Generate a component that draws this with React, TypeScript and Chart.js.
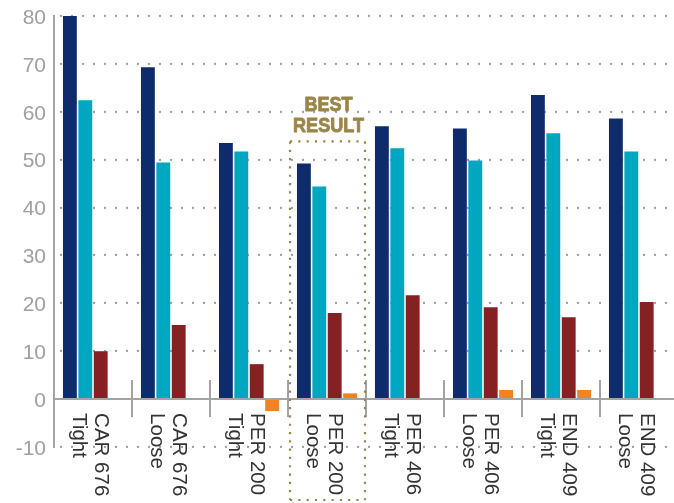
import { useEffect, useRef } from "react";
import { Chart, registerables } from "chart.js";

Chart.register(...registerables);

// Category labels (two lines each, drawn rotated under the baseline)
const categories: string[][] = [
  ["CAR 676", "Tight"],
  ["CAR 676", "Loose"],
  ["PER 200", "Tight"],
  ["PER 200", "Loose"],
  ["PER 406", "Tight"],
  ["PER 406", "Loose"],
  ["END 409", "Tight"],
  ["END 409", "Loose"],
];

const seriesNavy = [80, 69.3, 53.5, 49.2, 57.0, 56.5, 63.5, 58.6];
const seriesTeal = [62.4, 49.4, 51.7, 44.4, 52.4, 49.8, 55.5, 51.7];
const seriesRed = [10.0, 15.5, 7.3, 18.0, 21.7, 19.2, 17.1, 20.3];
const seriesOrange = [0, 0, -2.5, 1.2, 0, 1.9, 1.9, 0];

const yMin = -10;
const yMax = 80;
const yStep = 10;

// Highlighted category and the value where its frame starts
const bestIndex = 3;
const bestTop = 53.8;
const bestLines = ["BEST", "RESULT"];

const NAVY = "#0e2c6b";
const TEAL = "#00a7c1";
const RED = "#852122";
const ORANGE = "#f58220";
const GOLD = "#9b8547";
const GRAY = "#a3a3a3";
const DOT = "#9c9c9c";

const FONT = "'Liberation Sans', Arial, sans-serif";

// Dotted horizontal grid, drawn under the bars
const dottedGrid = {
  id: "dottedGrid",
  beforeDatasetsDraw(chart: any) {
    const { ctx, chartArea, scales } = chart;
    const y = scales.y;
    ctx.save();
    ctx.fillStyle = DOT;
    y.ticks.forEach((t: any) => {
      if (t.value === 0) return;
      const py = Math.round(y.getPixelForValue(t.value));
      for (let px = chartArea.left + 7; px < chartArea.right; px += 11) {
        ctx.beginPath();
        ctx.arc(px, py, 1.15, 0, Math.PI * 2);
        ctx.fill();
      }
    });
    ctx.restore();
  },
};

const overlay = {
  id: "overlay",
  afterDatasetsDraw(chart: any) {
    const { ctx, chartArea, scales } = chart;
    const x = scales.x;
    const y = scales.y;
    const y0 = y.getPixelForValue(0);
    const half = (x.getPixelForValue(1) - x.getPixelForValue(0)) / 2;

    ctx.save();
    // zero baseline
    ctx.strokeStyle = GRAY;
    ctx.lineWidth = 2;
    ctx.beginPath();
    ctx.moveTo(chartArea.left, Math.round(y0));
    ctx.lineTo(chartArea.right, Math.round(y0));
    ctx.stroke();

    // category separators crossing the baseline
    for (let i = 1; i < categories.length; i++) {
      const bx = Math.round(x.getPixelForValue(i) - half);
      ctx.beginPath();
      ctx.moveTo(bx, y0 - 19);
      ctx.lineTo(bx, y0 + 18);
      ctx.stroke();
    }

    // rotated category labels
    ctx.fillStyle = "#333333";
    ctx.font = `20.5px ${FONT}`;
    ctx.textAlign = "left";
    ctx.textBaseline = "middle";
    categories.forEach((lines, i) => {
      const cx = x.getPixelForValue(i);
      ctx.save();
      ctx.translate(cx, y0 + 14);
      ctx.rotate(Math.PI / 2);
      lines.forEach((t, j) => ctx.fillText(t, 0, -8 + j * 22));
      ctx.restore();
    });

    // dotted frame around the best category
    const bc = x.getPixelForValue(bestIndex);
    const left = bc - half + 2;
    const right = bc + half - 1;
    const top = y.getPixelForValue(bestTop);
    const bottom = chart.height - 3;
    ctx.strokeStyle = GOLD;
    ctx.lineWidth = 2.2;
    ctx.setLineDash([2.2, 6.1]);
    const seg = (x1: number, y1: number, x2: number, y2: number) => {
      ctx.beginPath();
      ctx.moveTo(x1, y1);
      ctx.lineTo(x2, y2);
      ctx.stroke();
    };
    seg(left, top, right, top);
    seg(left, top, left, bottom);
    seg(right, top, right, bottom);
    seg(left, bottom, right, bottom);
    ctx.setLineDash([]);

    // "BEST RESULT" caption
    ctx.fillStyle = GOLD;
    ctx.strokeStyle = GOLD;
    ctx.lineWidth = 0.9;
    ctx.lineJoin = "round";
    ctx.font = `bold 21px ${FONT}`;
    ctx.textAlign = "center";
    ctx.textBaseline = "alphabetic";
    bestLines.forEach((t, j) => {
      ctx.save();
      ctx.translate(bc + 1.5, top - 30 + j * 20.7);
      ctx.scale(0.86, 1);
      ctx.fillText(t, 0, 0);
      ctx.strokeText(t, 0, 0);
      ctx.restore();
    });
    ctx.restore();
  },
};

export default function App() {
  const ref = useRef<HTMLCanvasElement>(null);

  useEffect(() => {
    if (!ref.current) return;
    const bar = (data: number[], color: string, label: string) => ({
      label,
      data,
      backgroundColor: color,
      borderWidth: 0,
      categoryPercentage: 0.79,
      barPercentage: 0.9,
    });
    const chart = new Chart(ref.current, {
      type: "bar",
      data: {
        labels: categories.map((c) => c.join(" ")),
        datasets: [
          bar(seriesNavy, NAVY, "Series 1"),
          bar(seriesTeal, TEAL, "Series 2"),
          bar(seriesRed, RED, "Series 3"),
          bar(seriesOrange, ORANGE, "Series 4"),
        ],
      },
      options: {
        animation: false,
        responsive: false,
        layout: { padding: { top: 16, bottom: 56, left: 0, right: 0 } },
        plugins: { legend: { display: false }, tooltip: { enabled: false } },
        scales: {
          x: { display: false },
          y: {
            min: yMin,
            max: yMax,
            afterFit: (s: any) => {
              s.width = 54;
              s.paddingTop = 0;
              s.paddingBottom = 0;
            },
            ticks: {
              stepSize: yStep,
              padding: 8,
              labelOffset: 2,
              color: "#a0a0a0",
              font: { size: 21, family: FONT },
            },
            grid: { display: false, drawTicks: false },
            border: { display: true, color: GRAY, width: 2 },
          },
        },
      },
      plugins: [dottedGrid, overlay],
    });
    return () => chart.destroy();
  }, []);

  return (
    <div
      style={{
        position: "fixed",
        left: 0,
        top: 0,
        width: 674,
        height: 503,
        overflow: "hidden",
        background: "#ffffff",
      }}
    >
      <canvas ref={ref} width={678} height={503} style={{ display: "block" }} />
    </div>
  );
}
